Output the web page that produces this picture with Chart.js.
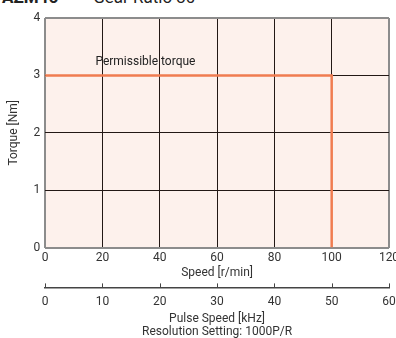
<!DOCTYPE html>
<html>
<head>
<meta charset="utf-8">
<script src="https://cdn.jsdelivr.net/npm/chart.js@4.4.1/dist/chart.umd.min.js"></script>
<style>
  html, body { margin: 0; padding: 0; background: #fff; overflow: hidden; }
  #wrap { position: relative; width: 396px; height: 338px; overflow: hidden; }
  #head { position: absolute; left: 2px; top: -13px; font: 17px Roboto, sans-serif; color: #222; white-space: nowrap; }
  #head b { margin-right: 35px; }
  #box { position: absolute; left: 0; top: 0; width: 410px; height: 338px; }
</style>
</head>
<body>
<div id="wrap">
  <div id="head"><b>AZM46</b>Gear Ratio 30</div>
  <div id="box"><canvas id="chart-torque"></canvas></div>
</div>
<script>
// speed / torque data
var speedPoints = [0, 100, 100];
var torquePoints = [3, 3, 0];
var speedTicks = [0, 20, 40, 60, 80, 100, 120];
var pulseTicks = [0, 10, 20, 30, 40, 50, 60];
var torqueTicks = [0, 1, 2, 3, 4];
var curveLabel = "Permissible torque";
var labelAt = [35, 3.23];

var FONT = 'Roboto, sans-serif';
var TXT = '#333';

function gridColor(c, lo, hi) {
  var v = c.tick ? c.tick.value : null;
  return (v === lo || v === hi) ? '#8c8c8c' : '#231815';
}
function gridWidth(c, lo, hi) {
  var v = c.tick ? c.tick.value : null;
  return (v === lo || v === hi) ? 2 : 1;
}

var plotBg = {
  id: 'plotBg',
  beforeDraw: function(chart) {
    var a = chart.chartArea, c = chart.ctx;
    c.save();
    c.fillStyle = '#fdf1ec';
    c.fillRect(a.left, a.top, a.right - a.left, a.bottom - a.top);
    c.restore();
  },
  afterDraw: function(chart) {
    var c = chart.ctx, s = chart.scales.x2;
    // small tick marks pointing up from the pulse axis line
    c.save();
    c.strokeStyle = '#444';
    c.lineWidth = 1;
    pulseTicks.forEach(function(v) {
      var px = Math.round(s.getPixelForValue(v)) + 0.5;
      c.beginPath();
      c.moveTo(px, s.top);
      c.lineTo(px, s.top - 4);
      c.stroke();
    });
    // curve label
    c.fillStyle = '#222';
    c.font = '12px ' + FONT;
    c.textAlign = 'center';
    c.textBaseline = 'middle';
    c.fillText(curveLabel, chart.scales.x.getPixelForValue(labelAt[0]), chart.scales.y.getPixelForValue(labelAt[1]));
    c.restore();
  }
};

var ctx = document.getElementById('chart-torque').getContext('2d');
new Chart(ctx, {
  type: 'line',
  data: {
    datasets: [{
      label: curveLabel,
      data: speedPoints.map(function(s, i) { return { x: s, y: torquePoints[i] }; }),
      borderColor: '#f07c50',
      borderWidth: 2.5,
      pointRadius: 0,
      tension: 0,
      fill: false
    }]
  },
  options: {
    responsive: true,
    maintainAspectRatio: false,
    animation: false,
    layout: { padding: { top: 18, right: 21, left: 7, bottom: -2 } },
    plugins: {
      legend: { display: false },
      tooltip: { enabled: false }
    },
    scales: {
      x: {
        type: 'linear',
        min: 0,
        max: 120,
        afterBuildTicks: function(s) { s.ticks = speedTicks.map(function(v) { return { value: v }; }); },
        border: { display: false },
        grid: {
          drawTicks: false,
          color: function(c) { return gridColor(c, 0, 120); },
          lineWidth: function(c) { return gridWidth(c, 0, 120); }
        },
        ticks: { padding: 3, color: TXT, font: { family: FONT, size: 12 }, maxRotation: 0 },
        title: { display: true, text: 'Speed [r/min]', color: TXT, font: { family: FONT, size: 12 }, padding: { top: -2, bottom: 7 } }
      },
      x2: {
        type: 'linear',
        position: 'bottom',
        min: 0,
        max: 60,
        afterBuildTicks: function(s) { s.ticks = pulseTicks.map(function(v) { return { value: v }; }); },
        border: { display: true, color: '#444', width: 1.5 },
        grid: { display: false, drawOnChartArea: false, drawTicks: false },
        ticks: { padding: 7, color: TXT, font: { family: FONT, size: 12 }, maxRotation: 0 },
        title: { display: true, text: ['Pulse Speed [kHz]', 'Resolution Setting: 1000P/R'], color: TXT, font: { family: FONT, size: 12, lineHeight: 1.05 }, padding: { top: -3, bottom: 2 } }
      },
      y: {
        min: 0,
        max: 4,
        afterBuildTicks: function(s) { s.ticks = torqueTicks.map(function(v) { return { value: v }; }); },
        border: { display: false },
        grid: {
          drawTicks: false,
          color: function(c) { return gridColor(c, 0, 4); },
          lineWidth: function(c) { return gridWidth(c, 0, 4); }
        },
        ticks: { padding: 5, color: TXT, font: { family: FONT, size: 12 } },
        title: { display: true, text: 'Torque [Nm]', color: TXT, font: { family: FONT, size: 12 }, padding: { top: 0, bottom: 7 } }
      }
    }
  },
  plugins: [plotBg]
});
</script>
</body>
</html>
